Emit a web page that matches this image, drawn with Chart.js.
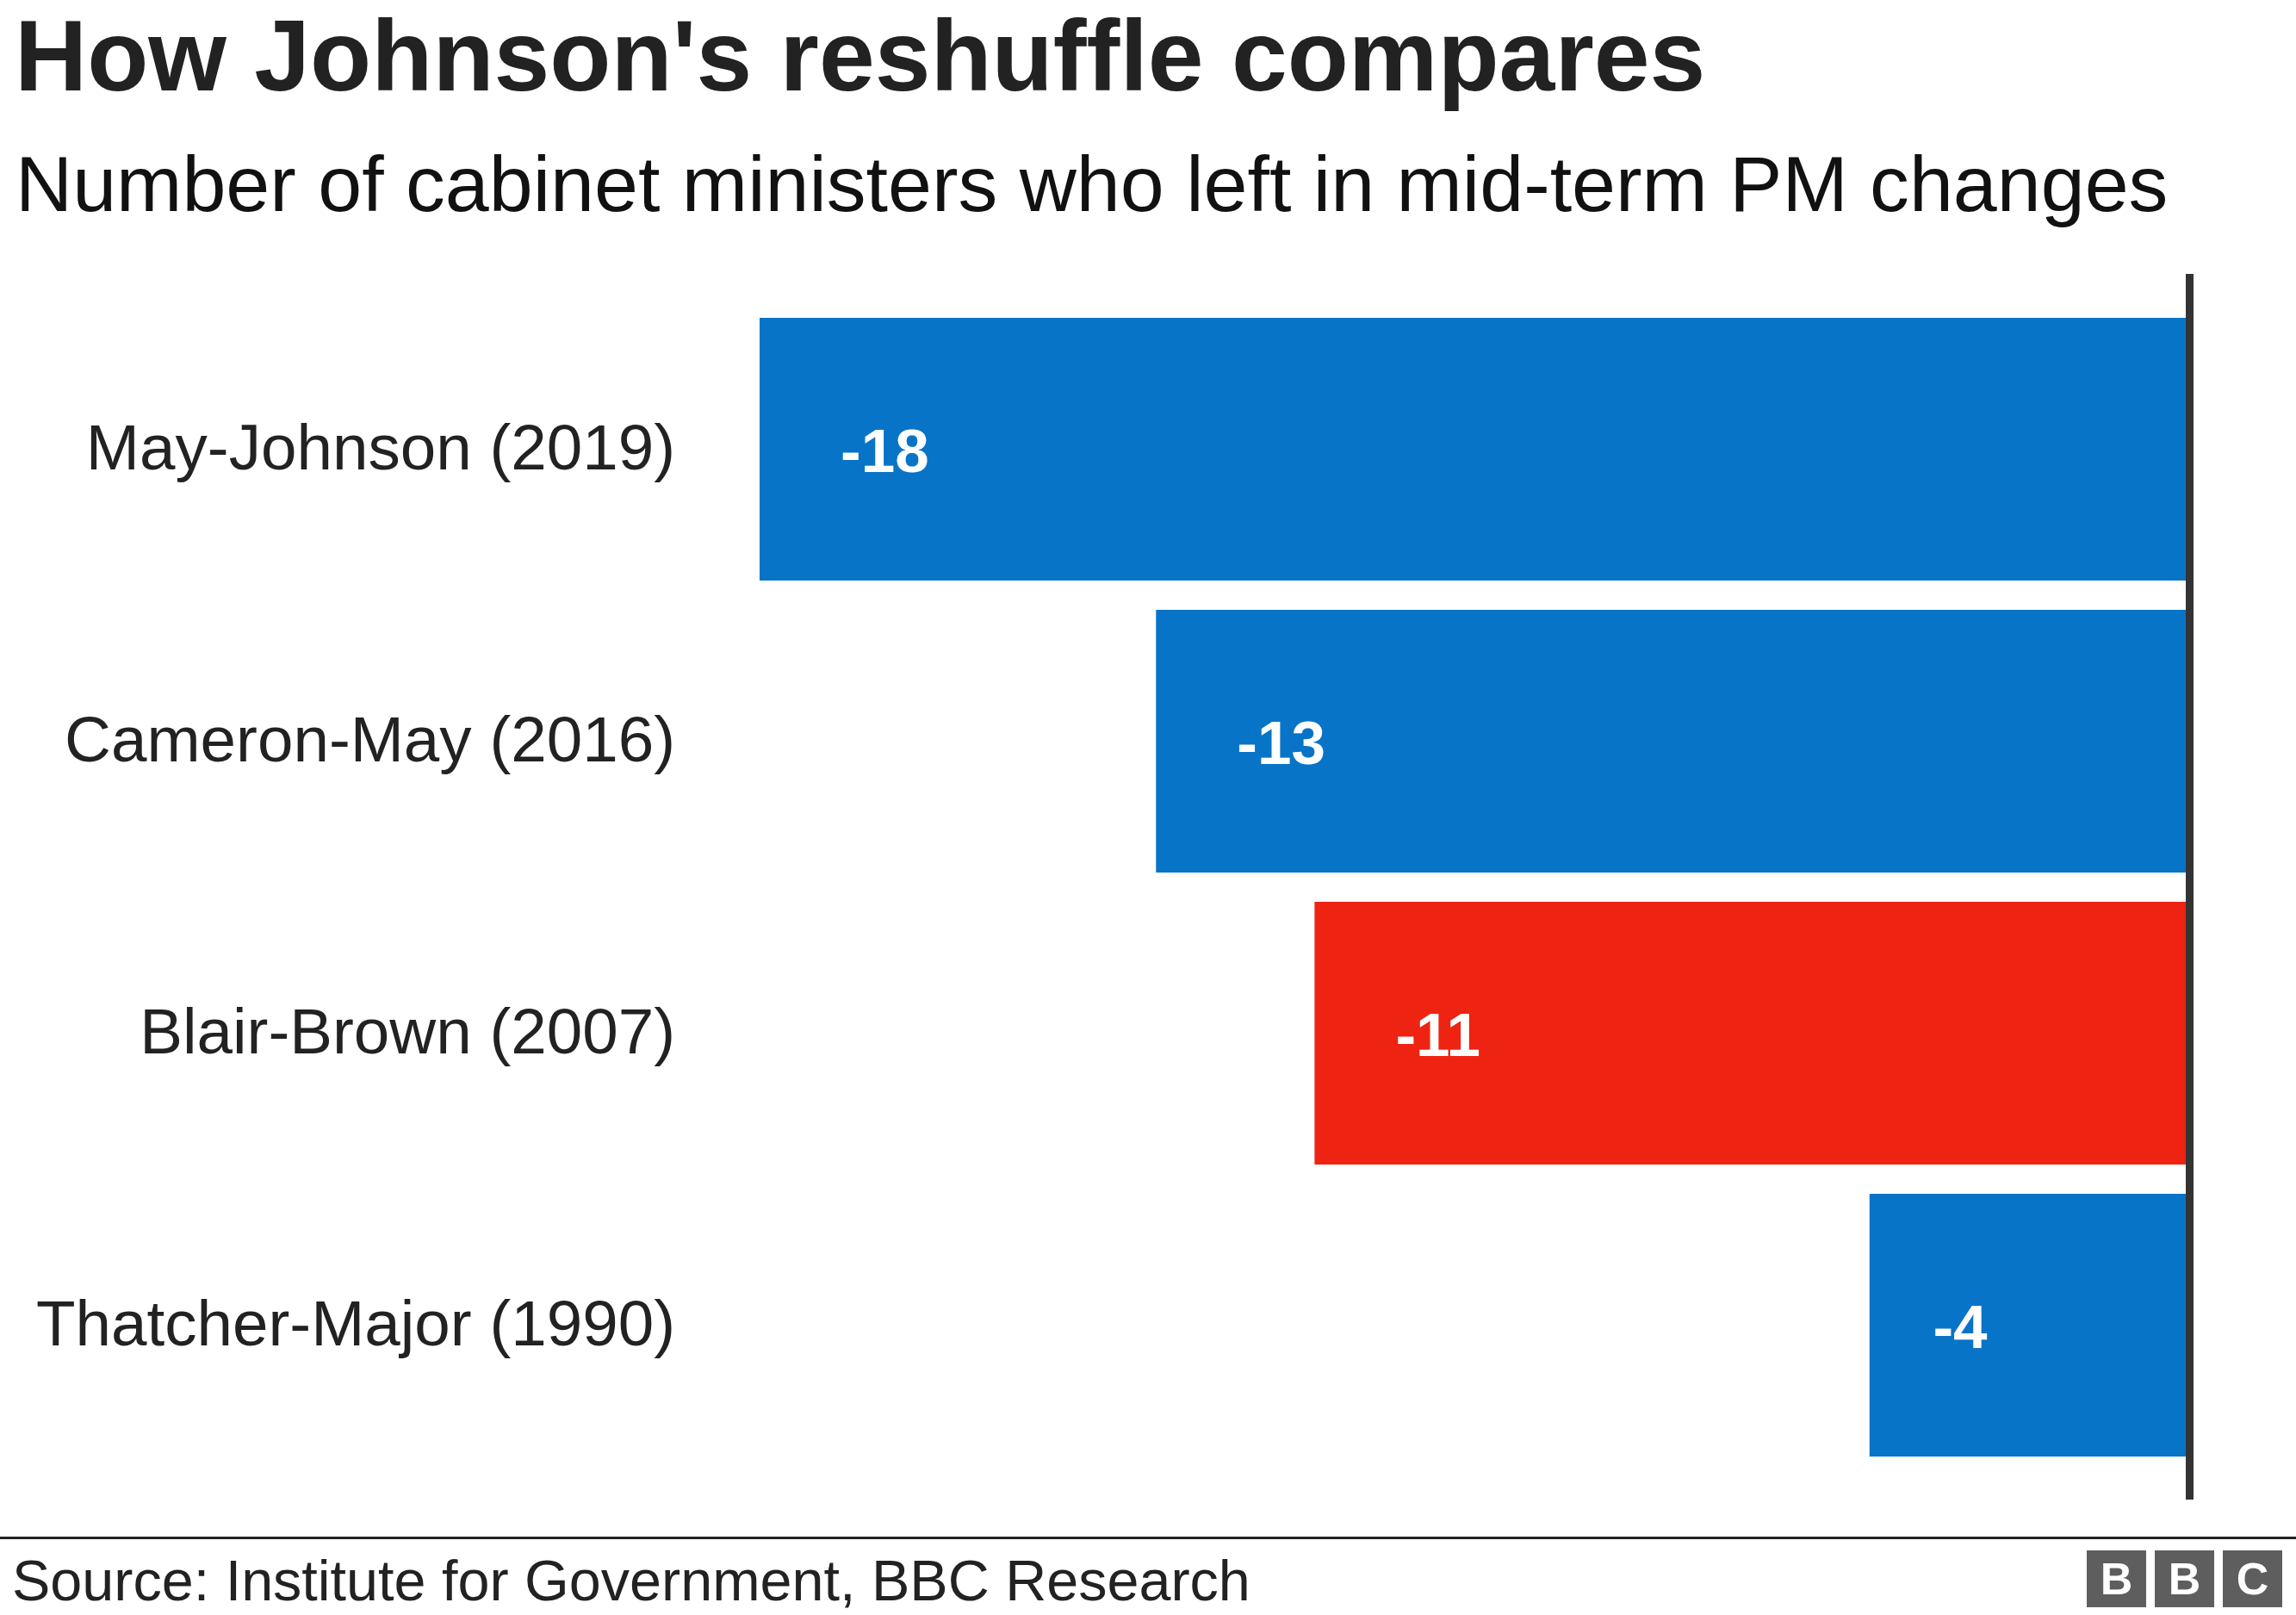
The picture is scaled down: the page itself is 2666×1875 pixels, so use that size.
<!DOCTYPE html>
<html>
<head>
<meta charset="utf-8">
<script src="https://cdn.jsdelivr.net/npm/chart.js@4/dist/chart.umd.min.js"></script>
<style>
  html, body { margin: 0; padding: 0; background: #ffffff; }
  body { width: 2666px; height: 1875px; position: relative; overflow: hidden; font-family: "Liberation Sans", Arial, Helvetica, sans-serif; }
  #chart { position: absolute; left: 0; top: 0; }
  .txt { position: absolute; white-space: nowrap; line-height: 1; }
  #title { left: 17px; top: 7px; font-size: 116.5px; font-weight: bold; color: #222222; }
  #subtitle { left: 18px; top: 168px; font-size: 91.6px; color: #111111; }
  #rule { position: absolute; left: 0; top: 1784px; width: 2666px; height: 3px; background: #222222; }
  #source { left: 14px; top: 1802px; font-size: 66.5px; color: #222222; }
  .bbc { position: absolute; top: 1800px; width: 69px; height: 66px; background: #5e5e5e; color: #ffffff; font-weight: bold; font-size: 52px; text-align: center; line-height: 66px; }
</style>
</head>
<body>
<canvas id="chart" width="2666" height="1875"></canvas>
<div id="title" class="txt">How Johnson's reshuffle compares</div>
<div id="subtitle" class="txt">Number of cabinet ministers who left in mid-term PM changes</div>
<div id="rule"></div>
<div id="source" class="txt">Source: Institute for Government, BBC Research</div>
<div class="bbc" style="left:2423px">B</div>
<div class="bbc" style="left:2502px">B</div>
<div class="bbc" style="left:2581px">C</div>
<script>
const categories = ["May-Johnson (2019)", "Cameron-May (2016)", "Blair-Brown (2007)", "Thatcher-Major (1990)"];
const ministersLeft = [-18, -13, -11, -4];
const barColors = ["#0874C8", "#0874C8", "#EE2312", "#0874C8"];

const valueLabels = {
  id: 'valueLabels',
  afterDatasetsDraw(chart) {
    const ctx = chart.ctx;
    const meta = chart.getDatasetMeta(0);
    ctx.save();
    ctx.fillStyle = '#ffffff';
    ctx.font = 'bold 71px "Liberation Sans", Arial, sans-serif';
    ctx.textAlign = 'left';
    ctx.textBaseline = 'alphabetic';
    meta.data.forEach((bar, i) => {
      const left = Math.min(bar.x, bar.base);
      const width = Math.abs(bar.base - bar.x);
      const offset = Math.min(94, width * 0.2);
      ctx.fillText(String(ministersLeft[i]), left + offset, bar.y + 26);
    });
    ctx.restore();
  }
};

const zeroLine = {
  id: 'zeroLine',
  afterDatasetsDraw(chart) {
    const ctx = chart.ctx;
    const x = chart.scales.x.getPixelForValue(0);
    const area = chart.chartArea;
    ctx.save();
    ctx.fillStyle = '#333333';
    ctx.fillRect(x - 1, area.top - 34, 9, (area.bottom - area.top) + 67);
    ctx.restore();
  }
};

new Chart(document.getElementById('chart'), {
  type: 'bar',
  data: {
    labels: categories,
    datasets: [{
      data: ministersLeft,
      backgroundColor: barColors,
      borderWidth: 0,
      categoryPercentage: 1.0,
      barPercentage: 0.9
    }]
  },
  options: {
    indexAxis: 'y',
    responsive: false,
    animation: false,
    devicePixelRatio: 1,
    layout: { padding: { top: 352, bottom: 167, left: 0, right: 127 } },
    plugins: {
      legend: { display: false },
      tooltip: { enabled: false },
      title: { display: false }
    },
    scales: {
      x: {
        display: false,
        min: -18,
        max: 0
      },
      y: {
        grid: { display: false, drawTicks: false },
        border: { display: false },
        ticks: {
          color: '#222222',
          font: { family: '"Liberation Sans", Arial, sans-serif', size: 74.6 },
          padding: 98,
          labelOffset: 3
        },
        afterFit(scale) { scale.width = 882; }
      }
    }
  },
  plugins: [valueLabels, zeroLine]
});
</script>
</body>
</html>
